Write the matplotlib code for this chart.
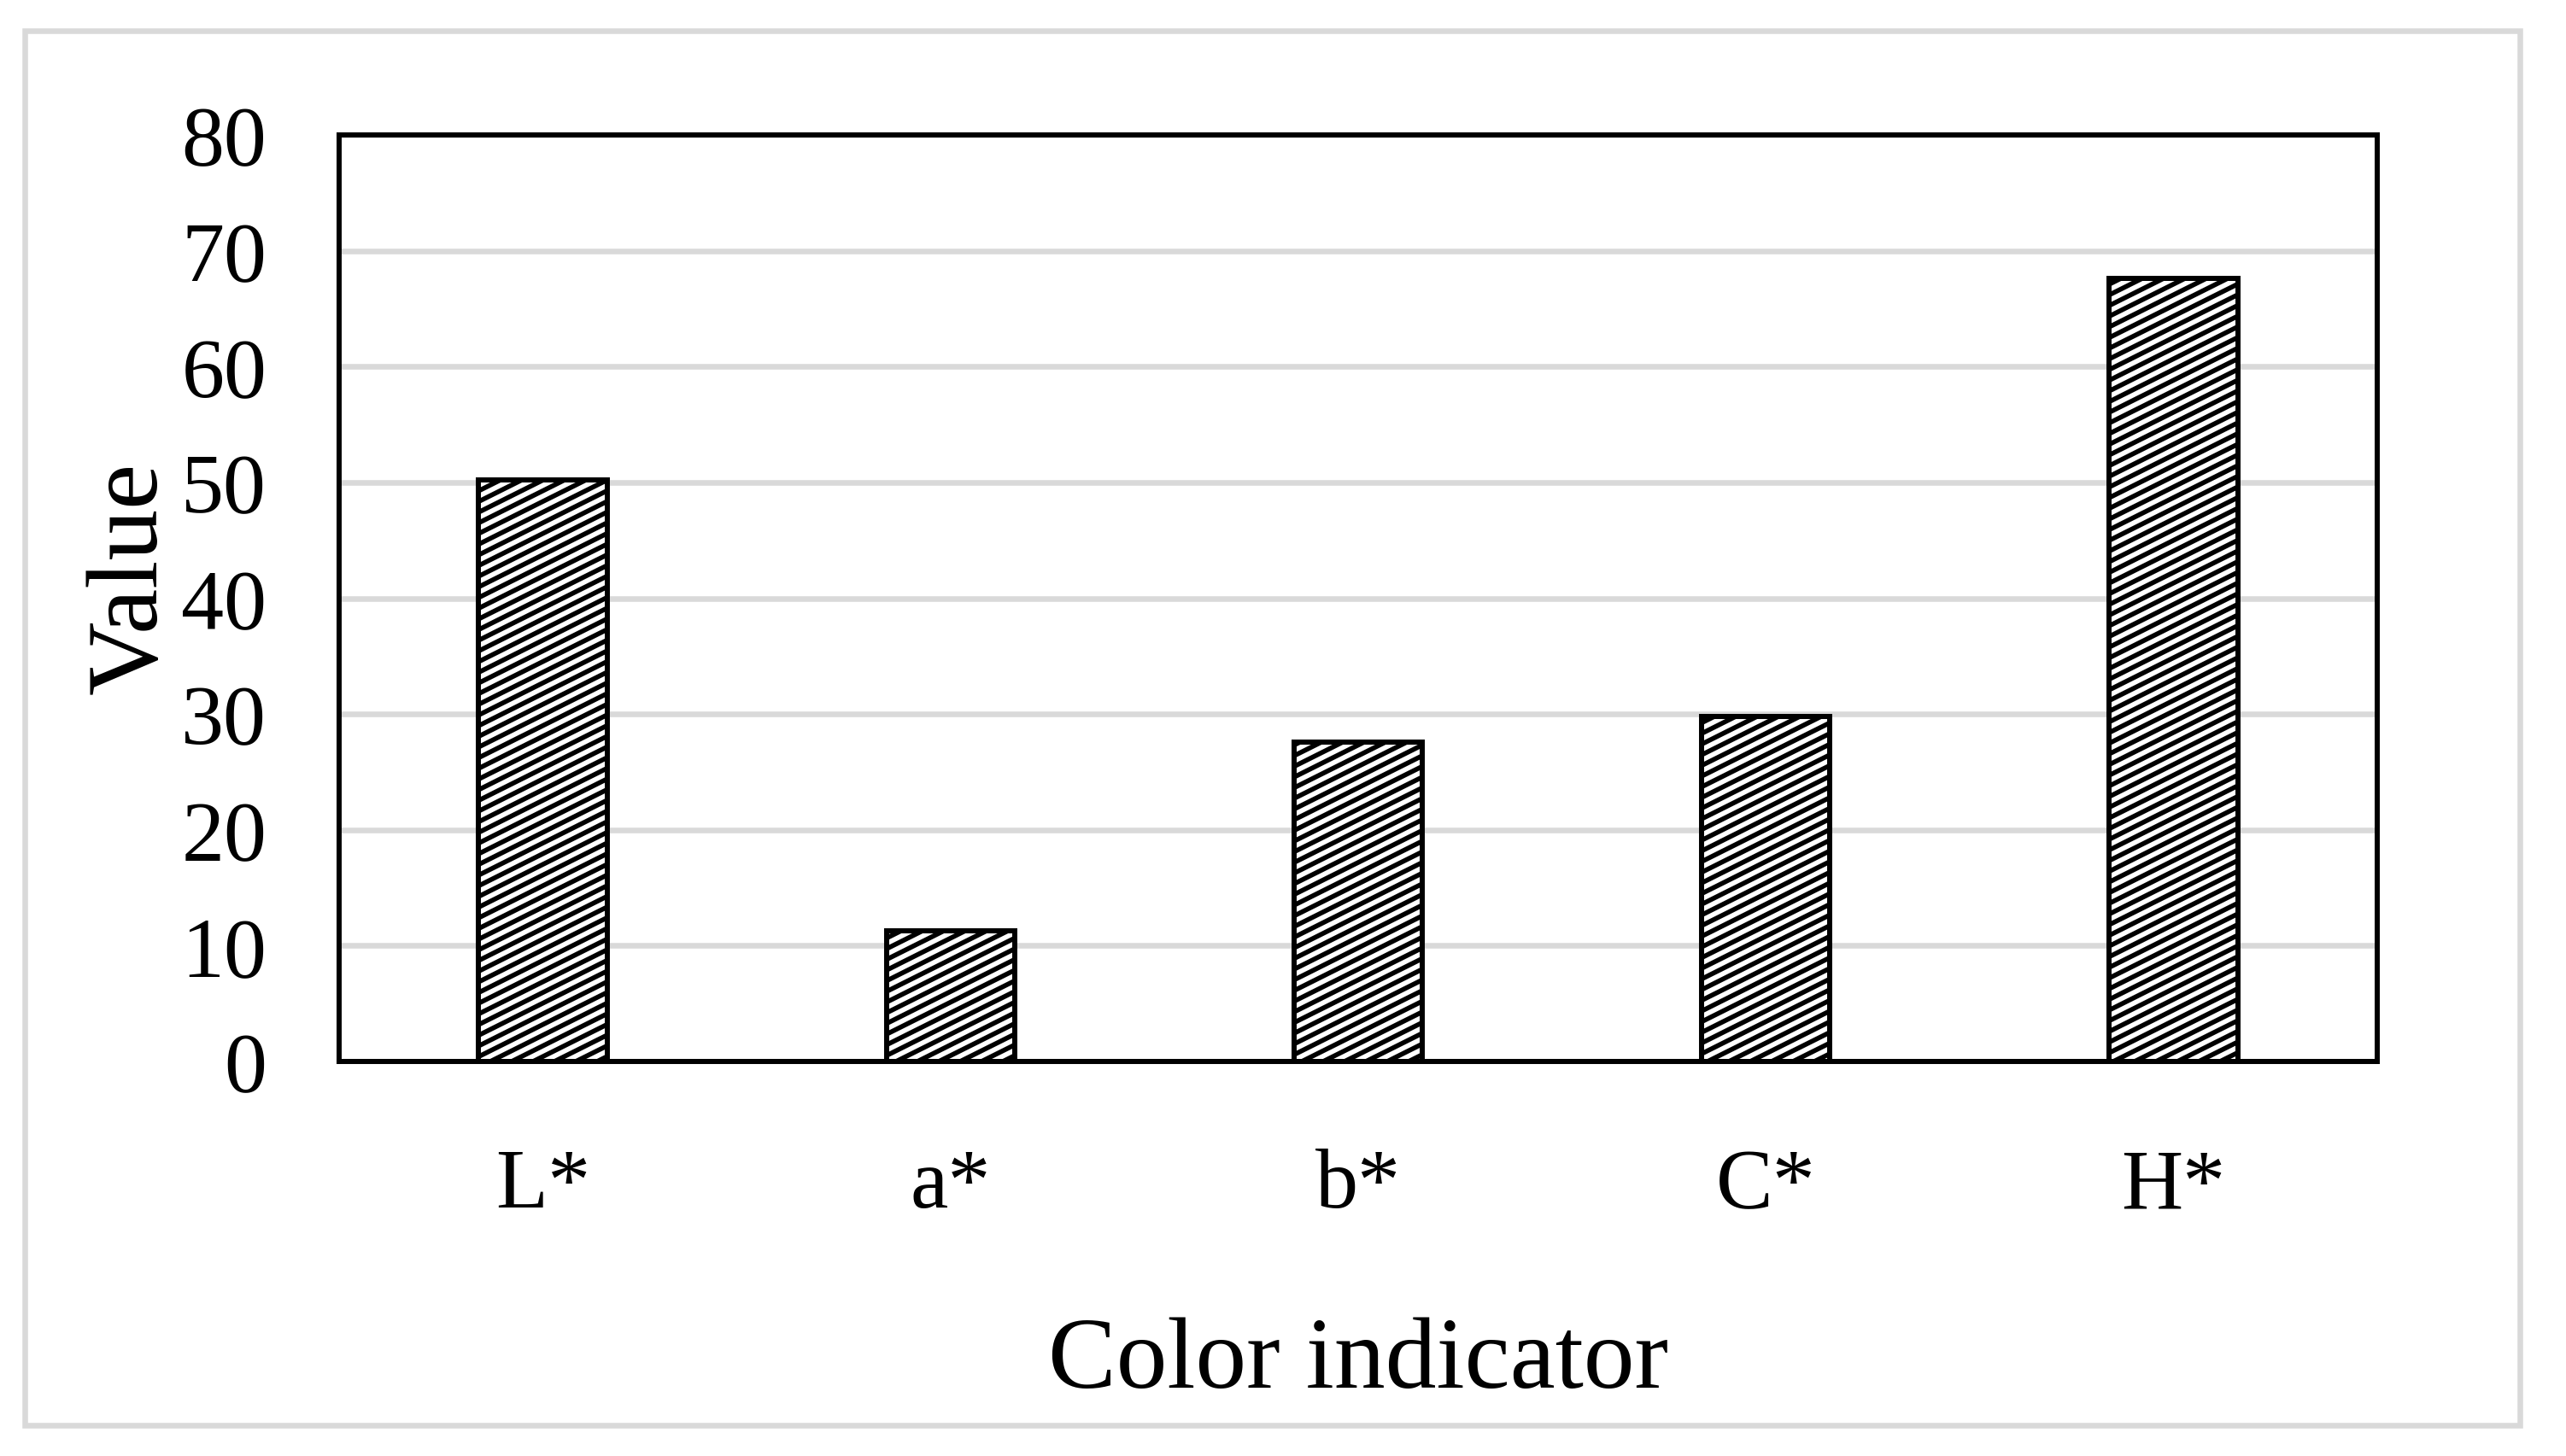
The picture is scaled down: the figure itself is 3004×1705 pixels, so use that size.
import matplotlib
matplotlib.use('Agg')
import matplotlib.pyplot as plt
import matplotlib.patches as mpatches
from matplotlib.collections import LineCollection
from matplotlib.transforms import IdentityTransform
import numpy as np

# data
categories = ['L*', 'a*', 'b*', 'C*', 'H*']
values = [50.2, 11.3, 27.6, 29.8, 67.6]
y_ticks = [0, 10, 20, 30, 40, 50, 60, 70, 80]

plt.rcParams['font.family'] = ['Liberation Serif', 'DejaVu Serif']

W, H = 3004, 1706
fig = plt.figure(figsize=(W / 100, H / 100), dpi=100)

# plot frame in pixels: left 397, right 2783, top 159, bottom 1244
ax = fig.add_axes([397 / W, 1 - 1244 / H, (2783 - 397) / W, (1244 - 159) / H])

x = np.arange(len(categories))
bars = ax.bar(x, values, width=0.315, color='white', edgecolor='black',
              linewidth=4.3, zorder=3)

ax.set_xlim(-0.5, len(categories) - 0.5)
ax.set_ylim(y_ticks[0], y_ticks[-1])
ax.set_yticks(y_ticks)
ax.set_xticks(x)
ax.set_xticklabels(categories)
ax.tick_params(axis='both', length=0, labelsize=72, colors='black')
ax.tick_params(axis='x', pad=73)
ax.tick_params(axis='y', pad=61)
ax.yaxis.grid(True, color='#d9d9d9', linewidth=4.7)
ax.set_axisbelow(True)
for s in ax.spines.values():
    s.set_linewidth(4.3)
    s.set_color('black')
    s.set_zorder(4)

# diagonal stripe fill (shallow upward lines), drawn in pixel space and clipped to each bar
period = 12.5
slope = 0.5
for b in bars:
    bb = b.get_window_extent()
    x0, y0, x1, y1 = bb.x0, bb.y0, bb.x1, bb.y1
    c_start = np.floor((y0 - slope * x1) / period) * period
    cs = np.arange(c_start, y1 - slope * x0 + period, period)
    segs = [[(x0, slope * x0 + c), (x1, slope * x1 + c)] for c in cs]
    lc = LineCollection(segs, colors='black', linewidths=4.0,
                        transform=IdentityTransform(), zorder=3.5)
    ax.add_collection(lc, autolim=False)
    # clip after adding, otherwise add_collection resets it to the axes patch
    lc.set_clip_path(b.get_path(), b.get_transform())

# axis titles
fig.text(1590 / W, 1 - 1625 / H, 'Color indicator', ha='center', va='baseline', fontsize=86)
fig.text(154 / W, 1 - 677 / H, 'Value', rotation=90, ha='center', va='center', fontsize=86)

# light grey outer border
border = mpatches.Rectangle((29 / W, 1 - 1670 / H), (2950 - 29) / W, (1670 - 36.5) / H,
                            transform=fig.transFigure, fill=False,
                            edgecolor='#d9d9d9', linewidth=4.7)
fig.add_artist(border)

fig.savefig('out.png', dpi=100)
